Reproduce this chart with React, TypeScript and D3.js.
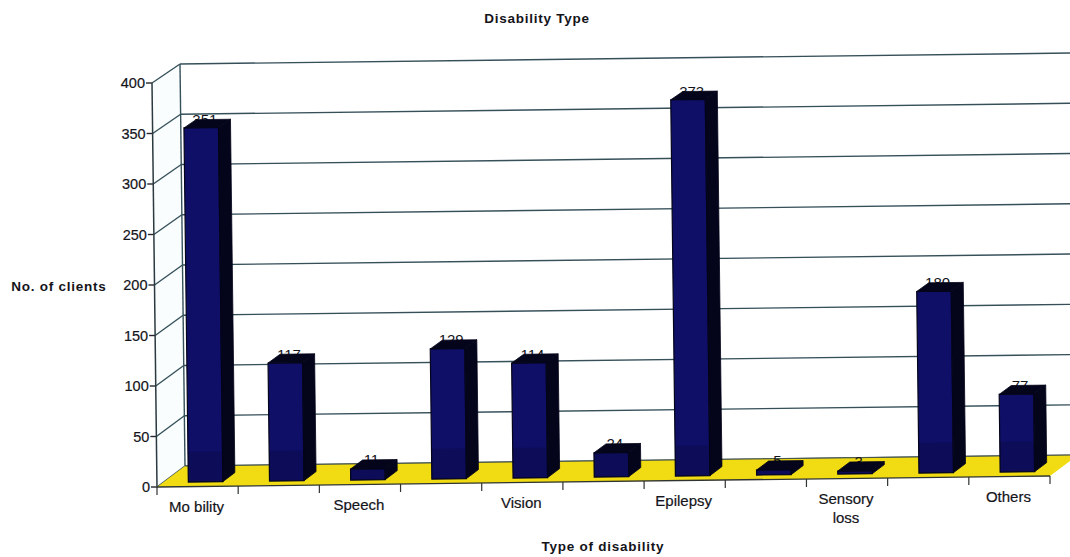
import React from "react";
import * as d3 from "d3";

const categories = ["Mo bility", "", "Speech", "", "Vision", "", "Epilepsy", "", "Sensory\nloss", "", "Others"];
const clients = [351, 117, 11, 129, 114, 24, 373, 5, 3, 180, 77];
const yTicks = [0, 50, 100, 150, 200, 250, 300, 350, 400];

const W = 1070;
const H = 557;
const font = "'Liberation Sans', Arial, sans-serif";
const gridColor = "#36505a";
const ink = "#14141a";

// Oblique projection of the 3-D column chart: u = category slot, v = value, d = depth 0..1
const xFront = d3.scaleLinear().domain([0, clients.length]).range([157, 1050]);
const yFront = d3.scaleLinear().domain([0, 400]).range([487, 83]);
const skew = d3.scaleLinear().domain([0, 400]).range([0, -5]);
const rise = d3.scaleLinear().domain([0, clients.length]).range([0, -11]);
const depthX = d3.scaleLinear().domain([0, 1]).range([0, 28]);
const depthRise = d3.scaleLinear().domain([0, 400]).range([-21, -19]);

type Pt = [number, number];
const project = (u: number, v: number, d: number): Pt => [
  xFront(u) + skew(v) + depthX(d),
  yFront(v) + rise(u) + d * depthRise(v),
];
const poly = (pts: Pt[]) => (d3.line()(pts) ?? "") + "Z";
const seg = (a: Pt, b: Pt) => d3.line()([a, b]) ?? "";

const BAR_LEFT = 0.31;
const BAR_RIGHT = 0.735;
const D0 = 0.22;
const D1 = 0.65;
const BASE_BAND = 30;

function Bar({ i, value }: { i: number; value: number }) {
  const l = i + BAR_LEFT;
  const r = i + BAR_RIGHT;
  const band = Math.min(value, BASE_BAND);
  const dark = "#04041a";
  return (
    <g>
      <path d={poly([project(l, 0, D0), project(r, 0, D0), project(r, value, D0), project(l, value, D0)])} fill="#0f0f68" />
      <path d={poly([project(l, 0, D0), project(r, 0, D0), project(r, band, D0), project(l, band, D0)])} fill="#0c0c58" />
      <path d={poly([project(l, 0, D0), project(r, 0, D0), project(r, value, D0), project(l, value, D0)])} fill="none" stroke={dark} strokeWidth={1.2} />
      <path d={poly([project(r, 0, D0), project(r, 0, D1), project(r, value, D1), project(r, value, D0)])} fill={dark} stroke={dark} strokeWidth={0.8} />
      <path d={poly([project(l, value, D0), project(r, value, D0), project(r, value, D1), project(l, value, D1)])} fill={dark} stroke={dark} strokeWidth={0.8} />
    </g>
  );
}

export default function App() {
  const n = clients.length;
  const boldText = { fontSize: 13.5, fontWeight: "bold", fill: ink, letterSpacing: 0.75 } as const;
  return (
    <svg width={W} height={H} viewBox={`0 0 ${W} ${H}`} style={{ position: "absolute", left: 0, top: 0, background: "#fff" }} fontFamily={font}>
      <text x={537} y={23} textAnchor="middle" {...boldText}>Disability Type</text>

      {/* Walls and gridlines */}
      <path d={poly([project(0, 0, 0), project(0, 400, 0), project(0, 400, 1), project(0, 0, 1)])} fill="#fafdfe" />
      {yTicks.map((t) => (
        <g key={t} fill="none" stroke={gridColor} strokeWidth={1.4}>
          <path d={seg(project(0, t, 1), project(n, t, 1))} />
          <path d={seg(project(0, t, 0), project(0, t, 1))} />
          <path d={seg(project(0, t, 0), [project(0, t, 0)[0] - 6, project(0, t, 0)[1]])} stroke="#25252b" />
        </g>
      ))}
      <path d={seg(project(0, 0, 1), project(0, 400, 1))} fill="none" stroke={gridColor} strokeWidth={1.4} />
      <path d={seg(project(0, 0, 0), project(0, 400, 0))} fill="none" stroke="#2b3a40" strokeWidth={1.5} />

      {/* Floor */}
      <path d={poly([project(0, 0, 0), project(n, 0, 0), project(n, 0, 1), project(0, 0, 1)])} fill="#f1dc14" />
      <path d={seg(project(0, 0, 1), project(n, 0, 1))} fill="none" stroke="#4a5548" strokeWidth={1} />
      <path d={seg(project(0, 0, 0), project(n, 0, 0))} fill="none" stroke="#2f3430" strokeWidth={1.3} />
      {d3.range(n + 1).map((i) => {
        const p = project(i, 0, 0);
        return <path key={i} d={seg(p, [p[0], p[1] + 8])} stroke="#2f3430" strokeWidth={1.2} fill="none" />;
      })}

      {/* Y axis tick labels */}
      {yTicks.map((t) => {
        const p = project(0, t, 0);
        return (
          <text key={t} x={p[0] - 7} y={p[1] + 5} textAnchor="end" fontSize={14.5} fill={ink} stroke={ink} strokeWidth={0.2}>{t}</text>
        );
      })}

      {/* Value labels sit behind the columns, partly hidden by the top faces */}
      {clients.map((v, i) => {
        const mid = i + (BAR_LEFT + BAR_RIGHT) / 2;
        return (
          <text key={i} x={project(mid, v, 0.35)[0]} y={project(mid, v, D1)[1] + 5.5} textAnchor="middle" fontSize={15} fill={ink}>{v}</text>
        );
      })}

      {clients.map((v, i) => (
        <Bar key={i} i={i} value={v} />
      ))}

      {/* Category labels */}
      {categories.map((c, i) => {
        if (!c) return null;
        const p = project(i + 0.5, 0, 0);
        return (
          <text key={i} textAnchor="middle" fontSize={15} fill={ink} stroke={ink} strokeWidth={0.2}>
            {c.split("\n").map((line, k) => (
              <tspan key={k} x={p[0] - 1} y={p[1] + 25 + k * 19}>{line}</tspan>
            ))}
          </text>
        );
      })}

      <text x={59} y={291} textAnchor="middle" {...boldText}>No. of clients</text>
      <text x={603} y={551} textAnchor="middle" {...boldText}>Type of disability</text>
    </svg>
  );
}
